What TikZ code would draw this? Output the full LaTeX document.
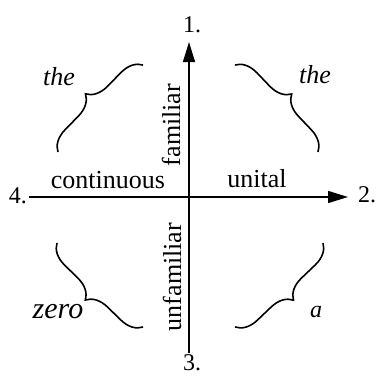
\documentclass[tikz,border=0pt]{standalone}
\usepackage{fontspec}
\setmainfont{Liberation Serif}
\usetikzlibrary{arrows.meta,decorations.pathreplacing}
\begin{document}
\begin{tikzpicture}[x=1pt,y=-1pt,
  axis/.style={line width=1.5pt,-{Triangle[length=20pt,width=12pt]}},
  br/.style={line width=1.6pt,decorate,decoration={brace,amplitude=21pt}},
  lbl/.style={font=\fontsize{26}{30}\selectfont,anchor=base,inner sep=0pt},
  num/.style={font=\fontsize{24}{28}\selectfont,anchor=base,inner sep=0pt},
  itl/.style={font=\fontsize{26}{30}\selectfont\itshape,anchor=base,inner sep=0pt}]
\useasboundingbox (0,0) rectangle (377,376);
% axes endpoints
\coordinate (vb) at (189,353);
\coordinate (vt) at (189,42);
\coordinate (hl) at (29,197);
\coordinate (hr) at (348,197);
\draw[axis] (vb) -- (vt);
\draw[axis] (hl) -- (hr);
% numbers
\node[num] (n1) at (192,32) {1.};
\node[num] (n2) at (367,202) {2.};
\node[num] (n3) at (192,370) {3.};
\node[num] (n4) at (18,203) {4.};
% axis labels
\node[lbl] (cont) at (108,188) {continuous};
\node[lbl] (unit) at (257,187) {unital};
\node[lbl,rotate=90] (fam) at (180,125) {familiar};
\node[lbl,rotate=90] (unfam) at (181,277) {unfamiliar};
% braces
\coordinate (a1) at (58,152); \coordinate (a2) at (143,65);
\coordinate (b1) at (235,65); \coordinate (b2) at (318,152);
\coordinate (c1) at (143,327); \coordinate (c2) at (57,243);
\coordinate (d1) at (323,243); \coordinate (d2) at (235,327);
\draw[br] (a1) -- (a2);
\draw[br] (b1) -- (b2);
\draw[br] (c1) -- (c2);
\draw[br] (d1) -- (d2);
% brace labels
\node[itl] (tl) at (59,85) {the};
\node[itl] (tr) at (315,83) {the};
\node[itl,font=\fontsize{30}{34}\selectfont\itshape] (zl) at (58,318) {zero};
\node[itl,font=\fontsize{24}{28}\selectfont\itshape] (ar) at (316,317) {a};
\end{tikzpicture}
\end{document}
